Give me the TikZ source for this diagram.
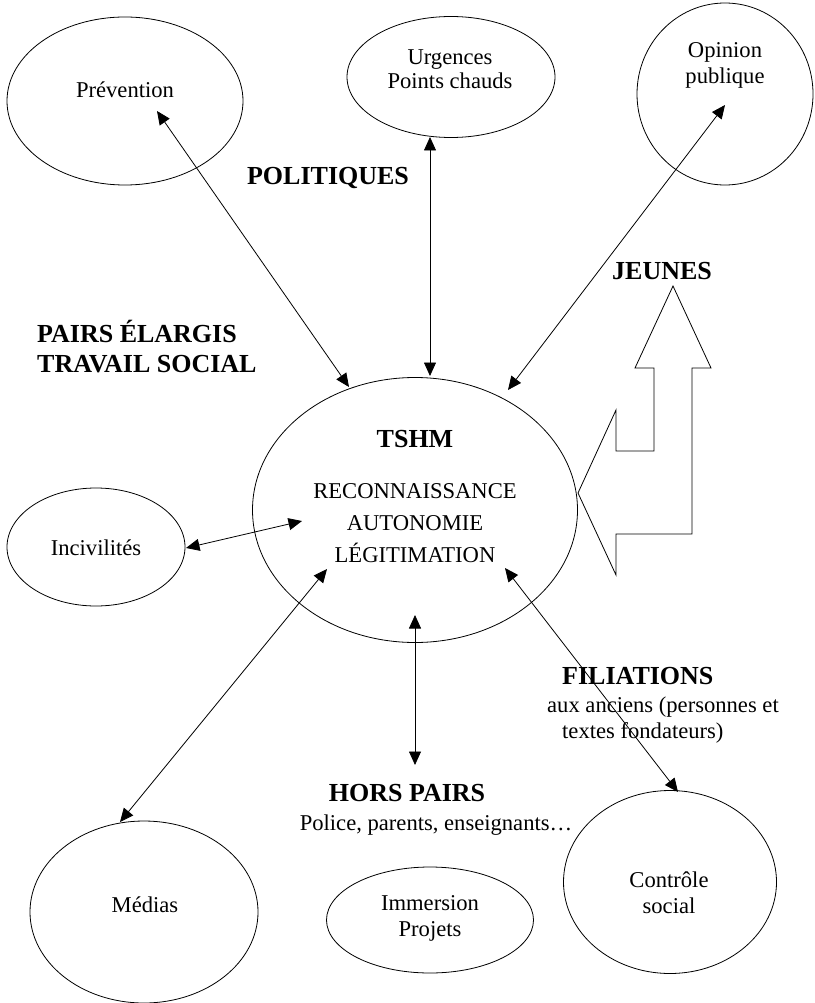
\documentclass[tikz,border=0pt]{standalone}
\usepackage{fontspec}
\setmainfont{Liberation Serif}
\usetikzlibrary{shapes.geometric,arrows.meta}
\begin{document}
\begin{tikzpicture}[x=1pt,y=-1pt,
  oval/.style={draw,ellipse,line width=0.8pt,inner sep=0pt},
  txt/.style={font=\fontsize{22.6}{27}\selectfont,anchor=base,inner sep=0pt},
  txtw/.style={txt,anchor=base west},
  bld/.style={font=\fontsize{26}{30}\selectfont\bfseries,anchor=base,inner sep=0pt},
  bldw/.style={bld,anchor=base west},
  link/.style={line width=0.8pt,{Triangle[length=13.5pt,width=12pt]}-{Triangle[length=13.5pt,width=12pt]}},
  bigarrow/.style={draw,line width=0.8pt,line join=miter},
]
\useasboundingbox (0,0) rectangle (814,1003);

% ellipses
\node[oval,minimum width=236pt,minimum height=168pt] (prev) at (125,101) {};
\node[oval,minimum width=208pt,minimum height=121pt] (urg) at (451,77) {};
\node[oval,minimum width=176pt,minimum height=182pt] (opin) at (725,94) {};
\node[oval,minimum width=325pt,minimum height=265pt] (tshm) at (415,510) {};
\node[oval,minimum width=178pt,minimum height=118pt] (inciv) at (96,547) {};
\node[oval,minimum width=228pt,minimum height=182pt] (medias) at (144,912) {};
\node[oval,minimum width=207pt,minimum height=106pt] (immer) at (430,920) {};
\node[oval,minimum width=213pt,minimum height=183pt] (ctrl) at (670,882) {};

% texts in ellipses
\node[txt] (tprev) at (125,98) {Prévention};
\node[txt] (turg1) at (450,65) {Urgences};
\node[txt] (turg2) at (450,89) {Points chauds};
\node[txt] (topin1) at (725,58) {Opinion};
\node[txt] (topin2) at (725,84) {publique};
\node[bld] (ttshm) at (415,447) {TSHM};
\node[txt] (trec) at (415,498) {RECONNAISSANCE};
\node[txt] (taut) at (415,530) {AUTONOMIE};
\node[txt] (tleg) at (415,562) {LÉGITIMATION};
\node[txt] (tinciv) at (96,555) {Incivilités};
\node[txt] (tmedias) at (145,912) {Médias};
\node[txt] (timm1) at (430,910) {Immersion};
\node[txt] (timm2) at (430,936) {Projets};
\node[txt] (tctrl1) at (669,887) {Contrôle};
\node[txt] (tctrl2) at (669,913) {social};

% free labels
\node[bld] (lpol) at (328,185) {POLITIQUES};
\node[bld] (ljeunes) at (662,279) {JEUNES};
\node[bldw] (lpairs1) at (37,342) {PAIRS ÉLARGIS};
\node[bldw] (lpairs2) at (37,372) {TRAVAIL SOCIAL};
\node[bldw] (lfil) at (562,684) {FILIATIONS};
\node[txtw] (lfil2) at (547,712) {aux anciens (personnes et};
\node[txtw] (lfil3) at (562,738) {textes fondateurs)};
\node[bld] (lhors) at (407,801) {HORS PAIRS};
\node[txt] (lhors2) at (436,830) {Police, parents, enseignants…};

% connector end points
\coordinate (aPrev) at (157,111);
\coordinate (bPrev) at (349,387);
\coordinate (aUrg) at (430,137);
\coordinate (bUrg) at (430,376);
\coordinate (aOpin) at (725,105);
\coordinate (bOpin) at (508,390);
\coordinate (aInciv) at (186,548);
\coordinate (bInciv) at (302,521);
\coordinate (aMed) at (120,822);
\coordinate (bMed) at (327,569);
\coordinate (aHors) at (415,765);
\coordinate (bHors) at (415,615);
\coordinate (aCtrl) at (678,792);
\coordinate (bCtrl) at (505,568);

\draw[link] (aPrev) -- (bPrev);
\draw[link] (aUrg) -- (bUrg);
\draw[link] (aOpin) -- (bOpin);
\draw[link] (aInciv) -- (bInciv);
\draw[link] (aMed) -- (bMed);
\draw[link] (aHors) -- (bHors);
\draw[link] (aCtrl) -- (bCtrl);

% JEUNES block arrow
\draw[bigarrow] (673,286) -- (711,368) -- (692,368) -- (692,534) -- (616,534)
  -- (616,575) -- (578,493) -- (616,410) -- (616,451) -- (654,451)
  -- (654,368) -- (635,368) -- cycle;
\end{tikzpicture}
\end{document}
